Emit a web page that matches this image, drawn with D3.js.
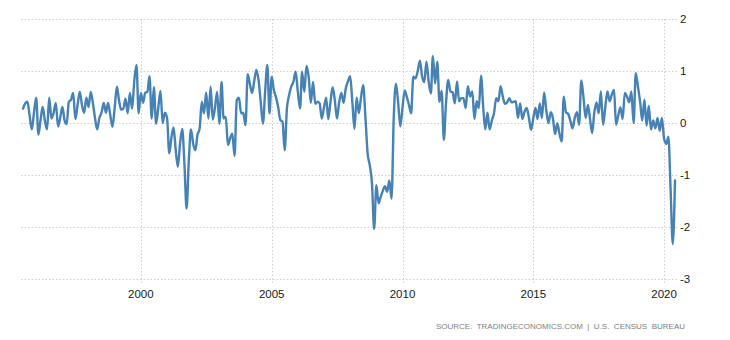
<!DOCTYPE html>
<html>
<head>
<meta charset="utf-8">
<script src="https://cdn.jsdelivr.net/npm/d3@7"></script>
<style>
  html, body { margin: 0; padding: 0; background: #ffffff; }
  svg { display: block; }
  text { font-family: "Liberation Sans", Arial, sans-serif; }
</style>
</head>
<body>
<svg id="chart" width="730" height="340"></svg>
<script>
// US business inventories, month-over-month change (%), Jul 1995 – Jun 2020
const startMonth = "1995-07";
const values = [
  0.28, 0.38, 0.41, 0.15, -0.12, 0.20, 0.49, -0.22, 0.05, 0.31,
  0.05, -0.12, 0.49, 0.09, 0.20, 0.39, -0.06, 0.10, 0.31, 0.05,
  -0.02, 0.41, 0.45, 0.58, 0.08, 0.35, 0.60, 0.35, 0.20, 0.49,
  0.31, 0.60, 0.40, 0.10, -0.12, 0.10, 0.20, 0.39, 0.20, 0.39,
  0.15, -0.07, 0.30, 0.70, 0.45, 0.26, 0.28, 0.47, 0.19, 0.58,
  0.28, 0.80, 1.12, 0.19, 0.58, 0.39, 0.58, 0.60, 0.90, 0.09,
  0.69, -0.01, 0.30, 0.62, 0.00, 0.20, 0.10, -0.58, -0.30, -0.08,
  -0.50, -0.84, -0.40, -0.11, -0.80, -1.64, -0.71, -0.12, -0.40, -0.52,
  -0.23, -0.10, 0.41, 0.19, 0.59, 0.09, 0.70, 0.07, 0.30, 0.60,
  -0.01, 0.79, 0.09, 0.12, -0.42, -0.29, -0.20, -0.63, 0.44, 0.49,
  0.19, 0.20, -0.04, 0.94, 0.76, 0.58, 0.80, 1.02, 0.83, 0.40,
  -0.01, 0.60, 1.12, 0.19, 0.89, 0.63, 0.50, 0.31, 0.06, 0.03,
  -0.52, 0.28, 0.54, 0.70, 0.80, 0.99, 0.60, 0.28, 0.99, 0.60,
  1.10, 0.89, 0.39, 0.79, 0.37, 0.41, 0.38, 0.09, 0.30, 0.49,
  0.08, 0.40, 0.69, 0.44, 0.09, 0.40, 0.58, 0.39, 0.67, 0.80,
  0.90, 0.40, -0.11, 0.49, 0.19, 0.50, 0.73, 0.12, -0.58, -0.81,
  -1.16, -2.03, -1.19, -1.54, -1.42, -1.30, -1.21, -1.32, -1.10, -1.45,
  0.12, 0.76, 0.40, -0.06, 0.30, 0.63, 0.51, 0.35, 0.19, 0.89,
  0.86, 1.00, 1.20, 0.90, 0.79, 1.18, 0.80, 0.57, 1.29, 0.76,
  1.18, 0.41, 0.62, -0.32, 0.40, 0.83, 0.61, 0.59, 0.38, 0.80,
  0.42, 0.48, 0.48, 0.29, 0.71, 0.51, 0.61, 0.08, 0.42, 0.29,
  0.91, 0.30, -0.12, 0.20, -0.12, 0.05, 0.19, 0.48, 0.42, 0.71,
  0.51, 0.37, 0.40, 0.48, 0.40, 0.41, 0.42, 0.10, 0.38, 0.08,
  0.22, 0.29, 0.10, -0.13, 0.10, 0.29, 0.08, 0.38, 0.10, 0.59,
  0.25, 0.00, 0.21, 0.10, -0.21, 0.00, -0.20, -0.35, 0.51, 0.21,
  0.18, 0.05, -0.10, 0.10, 0.21, -0.03, 0.82, 0.50, 0.10, 0.35,
  0.10, -0.19, 0.20, 0.40, 0.19, 0.61, -0.03, 0.30, 0.61, 0.42,
  0.55, 0.64, -0.03, 0.15, 0.30, 0.08, 0.58, 0.51, 0.40, 0.61,
  0.00, 0.96, 0.70, 0.40, 0.05, 0.45, -0.05, 0.33, -0.12, 0.05,
  -0.10, 0.10, -0.15, 0.10, -0.30, -0.40, -0.26, -1.30, -2.32, -1.10
];
const yTicks = [2, 1, 0, -1, -2, -3];
const xTickYears = [2000, 2005, 2010, 2015, 2020];
const sourceText = "SOURCE:\u00a0 TRADINGECONOMICS.COM\u00a0 |\u00a0 U.S.\u00a0 CENSUS\u00a0 BUREAU";

const parseMonth = d3.timeParse("%Y-%m");
const start = parseMonth(startMonth);
const data = values.map((v, i) => ({ date: d3.timeMonth.offset(start, i), value: v }));

const svg = d3.select("#chart");

const x = d3.scaleTime()
  .domain(d3.extent(data, d => d.date))
  .range([23, 675]);

const y = d3.scaleLinear()
  .domain([-3, 2])
  .range([279.4, 19]);

const gridColor = "#cfcfcf";

// horizontal grid
svg.append("g")
  .selectAll("line")
  .data(yTicks)
  .join("line")
  .attr("x1", 21)
  .attr("x2", 677)
  .attr("y1", d => Math.round(y(d)) + 0.5)
  .attr("y2", d => Math.round(y(d)) + 0.5)
  .attr("stroke", gridColor)
  .attr("stroke-width", 1)
  .attr("stroke-dasharray", "1.5,2");

// vertical grid
const yearDates = xTickYears.map(yr => new Date(yr, 0, 1));
svg.append("g")
  .selectAll("line")
  .data(yearDates)
  .join("line")
  .attr("x1", d => Math.round(x(d)) + 0.5)
  .attr("x2", d => Math.round(x(d)) + 0.5)
  .attr("y1", 19)
  .attr("y2", 284)
  .attr("stroke", gridColor)
  .attr("stroke-width", 1)
  .attr("stroke-dasharray", "1.5,2");

// y labels (right side)
svg.append("g")
  .selectAll("text")
  .data(yTicks)
  .join("text")
  .attr("x", 680)
  .attr("y", d => y(d))
  .attr("dy", "0.35em")
  .attr("font-size", 11.5)
  .attr("fill", "#1a1a1a")
  .text(d => d);

// x labels
svg.append("g")
  .selectAll("text")
  .data(yearDates)
  .join("text")
  .attr("x", d => x(d))
  .attr("y", 298)
  .attr("text-anchor", "middle")
  .attr("font-size", 11.5)
  .attr("fill", "#1a1a1a")
  .text(d => d3.timeFormat("%Y")(d));

// series line
const line = d3.line()
  .x(d => x(d.date))
  .y(d => y(d.value))
  .curve(d3.curveMonotoneX);

svg.append("path")
  .datum(data)
  .attr("fill", "none")
  .attr("stroke", "#4682b4")
  .attr("stroke-width", 2.4)
  .attr("stroke-linejoin", "round")
  .attr("stroke-linecap", "round")
  .attr("d", line);

// source note
svg.append("text")
  .attr("x", 685)
  .attr("y", 328.5)
  .attr("text-anchor", "end")
  .attr("font-size", 8)
  .attr("fill", "#808080")
  .text(sourceText);
</script>
</body>
</html>
